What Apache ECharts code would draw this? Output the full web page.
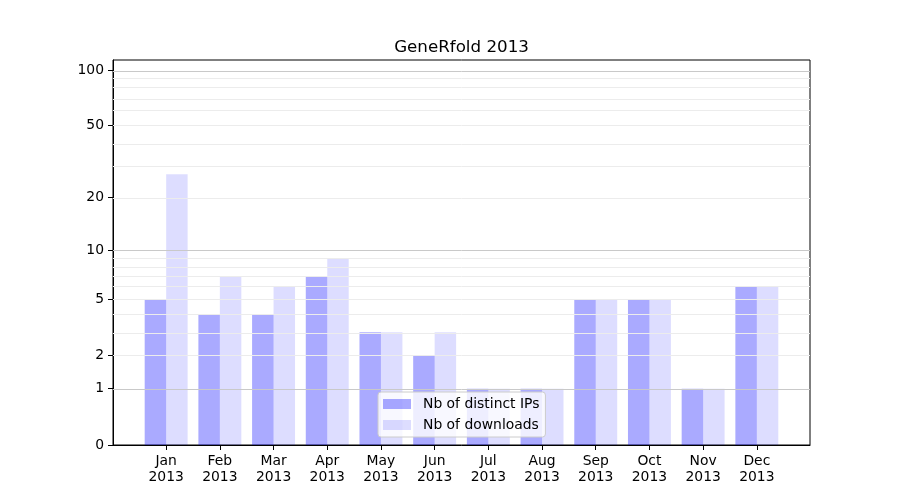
<!DOCTYPE html>
<html>
<head>
<meta charset="utf-8">
<script src="https://cdn.jsdelivr.net/npm/echarts@6/dist/echarts.min.js"></script>
<style>html,body{margin:0;padding:0;background:#fff}#chart{width:900px;height:500px}</style>
</head>
<body>
<div id="chart"></div>
<script>
// ---- data ----
const months = ['Jan\n2013','Feb\n2013','Mar\n2013','Apr\n2013','May\n2013','Jun\n2013','Jul\n2013','Aug\n2013','Sep\n2013','Oct\n2013','Nov\n2013','Dec\n2013'];
const distinctIPs = [5, 4, 4, 7, 3, 2, 1, 1, 5, 5, 1, 6];
const downloads   = [27, 7, 6, 9, 3, 3, 1, 1, 5, 5, 1, 6];
const yTickValues = [0, 1, 2, 5, 10, 20, 50, 100];
const yTickLabels = ['0', '1', '2', '5', '10', '20', '50', '100'];
const majorGrid = [1, 10, 100];
const minorGrid = [2, 3, 4, 5, 6, 7, 8, 9, 20, 30, 40, 50, 60, 70, 80, 90];
const seriesNames = ['Nb of distinct IPs', 'Nb of downloads'];

// y transform: log10(1 + v)
const t = v => Math.log10(1 + v);
const FONT = 'DejaVu Sans';
const FS = 13.9;

const chart = echarts.init(document.getElementById('chart'), null, {renderer: 'canvas'});

const gridLines = majorGrid.map(v => ({yAxis: t(v), lineStyle: {color: '#c9c9c9', width: 1, type: 'solid'}}))
  .concat(minorGrid.map(v => ({yAxis: t(v), lineStyle: {color: '#ececec', width: 1, type: 'solid'}})));

const option = {
  animation: false,
  backgroundColor: '#ffffff',
  textStyle: {fontFamily: FONT},
  title: {
    text: 'GeneRfold 2013',
    left: 456.5,
    textAlign: 'center',
    top: 34,
    textStyle: {fontFamily: FONT, fontSize: 16.7, fontWeight: 'normal', color: '#000'}
  },
  grid: {
    left: 113, right: 90, top: 60, bottom: 55,
    show: true, borderColor: '#000', borderWidth: 1, backgroundColor: 'transparent'
  },
  legend: {
    orient: 'vertical',
    left: 378, top: 392,
    itemWidth: 28, itemHeight: 10, itemGap: 7,
    icon: 'rect',
    padding: [5, 6, 5, 5],
    backgroundColor: 'rgba(255,255,255,0.8)',
    borderColor: '#cccccc', borderWidth: 1, borderRadius: 3,
    textStyle: {fontFamily: FONT, fontSize: FS, color: '#000', padding: [0, 0, 0, 7]},
    data: seriesNames
  },
  xAxis: {
    type: 'value',
    min: -0.99, max: 11.99,
    splitLine: {show: false},
    axisLine: {show: true, onZero: false, lineStyle: {color: '#000', width: 1}},
    axisTick: {show: true, inside: false, length: 5, customValues: months.map((m, i) => i), lineStyle: {color: '#000'}},
    axisLabel: {
      show: true, margin: 8, customValues: months.map((m, i) => i),
      fontFamily: FONT, fontSize: FS, color: '#000', lineHeight: 16,
      formatter: v => months[Math.round(v)] || ''
    }
  },
  yAxis: {
    type: 'value',
    min: 0, max: 2.058,
    splitLine: {show: false},
    axisLine: {show: true, onZero: false, lineStyle: {color: '#000', width: 1}},
    axisTick: {show: true, inside: false, length: 5, customValues: yTickValues.map(t), lineStyle: {color: '#000'}},
    axisLabel: {
      show: true, margin: 9, customValues: yTickValues.map(t),
      fontFamily: FONT, fontSize: FS, color: '#000',
      formatter: v => {
        let best = 0, bd = Infinity;
        yTickValues.forEach((tv, i) => { const d = Math.abs(t(tv) - v); if (d < bd) { bd = d; best = i; } });
        return yTickLabels[best];
      }
    }
  },
  series: [
    {
      name: seriesNames[0], type: 'bar',
      barWidth: '40%', barGap: '0%',
      itemStyle: {color: 'rgba(0,0,255,0.333)'},
      data: distinctIPs.map((v, i) => [i, t(v)]),
      markLine: {silent: true, symbol: 'none', label: {show: false}, animation: false, data: gridLines}
    },
    {
      name: seriesNames[1], type: 'bar',
      barWidth: '40%', barGap: '0%',
      itemStyle: {color: 'rgba(0,0,255,0.133)'},
      data: downloads.map((v, i) => [i, t(v)])
    }
  ]
};
chart.setOption(option);
</script>
</body>
</html>
